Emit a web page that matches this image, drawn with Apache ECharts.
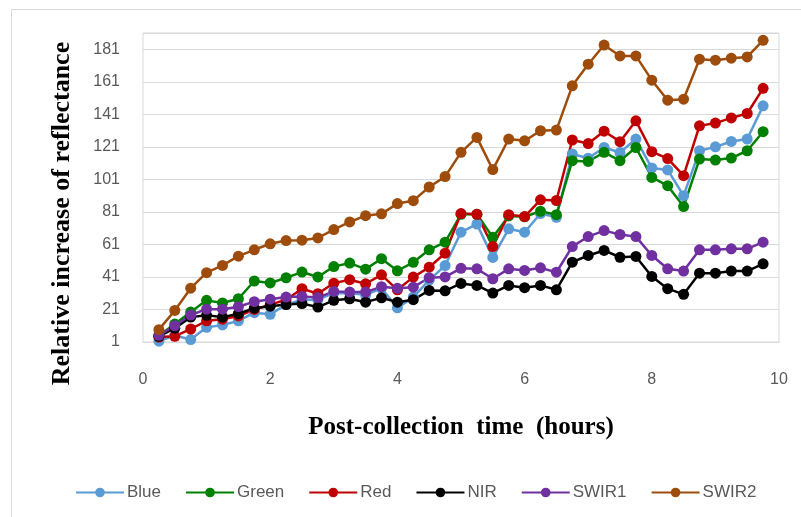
<!DOCTYPE html>
<html><head><meta charset="utf-8">
<script src="https://cdn.jsdelivr.net/npm/echarts@6/dist/echarts.min.js"></script>
<style>html,body{margin:0;padding:0;background:#fff}#c{width:801px;height:517px}</style>
</head><body><div id="c"></div>
<script>
var hours = [0.25,0.5,0.75,1,1.25,1.5,1.75,2,2.25,2.5,2.75,3,3.25,3.5,3.75,4,4.25,4.5,4.75,5,5.25,5.5,5.75,6,6.25,6.5,6.75,7,7.25,7.5,7.75,8,8.25,8.5,8.75,9,9.25,9.5,9.75];
var blue  = [1.5,5,2.5,10,11.5,14,19,18,24,27,27,31,31,30,34,22,28.6,39,48,68.5,73.5,53,70.6,68.5,80,77.7,116.6,114,120.6,117.5,125.8,108,106.8,91,118.6,121,124.3,125.8,146.2];
var green = [5,12,19.4,26.6,25,27.6,38.5,37.3,40.5,44,41,47.4,49.5,45.8,52.2,44.8,50,57.7,62.4,79.5,79.5,65.4,78.5,78,81.4,79.3,112.5,112,117.6,112.5,120.6,102.2,97.1,84.3,113.5,112.9,114.1,118.6,130.3];
var red   = [4,4.5,9,14,15,17,21,24,27,33.8,30.7,37.2,39.3,36.8,42.3,33.1,40.9,47,55.6,80,79.5,59.7,79.3,78.1,88.4,88,125.2,123,130.6,124.2,137,118,113.8,103.3,133.9,135.6,138.8,141.5,157];
var nir   = [4.5,9.5,16.3,17.4,16.3,18.4,21.8,23,24,24.6,22.5,26.6,27.6,25.5,28.2,25.5,27,32.7,32.5,37,35.8,31.1,35.8,34.4,35.8,33.1,50.1,54.2,57.3,53.1,53.6,41.3,33.8,30.3,43.3,43.3,44.6,44.6,49.1];
var swir1 = [5.1,11,17.6,21.2,21.2,22.7,25.8,27.3,28.6,29,28.3,32.1,31.7,31.7,35,34,34.7,40.5,41,46.3,46,39.9,46,45,46.6,43.9,59.7,65.8,69.5,67.1,65.8,54.2,46,44.6,57.7,57.7,58.3,58.3,62.4];
var swir2 = [8.6,20.4,34.1,43.6,48.1,53.8,57.7,61.4,63.4,63.6,65.0,70.1,74.8,78.7,79.8,86.1,87.9,96.3,102.7,117.6,126.8,107.0,125.8,124.7,130.9,131.3,158.5,171.8,183.6,176.9,176.9,162.0,149.7,150.3,174.9,174.3,175.5,176.3,186.5];
var seriesNames = ['Blue','Green','Red','NIR','SWIR1','SWIR2'];
var seriesData = [blue, green, red, nir, swir1, swir2];
var colors = ['#5b9bd5','#008000','#c00000','#000000','#7030a0','#9e4c0c'];

function pairs(vals){ return hours.map(function(h,i){ return [h, vals[i]]; }); }

var chart = echarts.init(document.getElementById('c'), null, {renderer:'canvas'});
chart.setOption({
  animation:false,
  color: colors,
  graphic:[{type:'rect', left:9, top:7, shape:{width:830, height:540}, style:{fill:'none', stroke:'#d9d9d9', lineWidth:1}, silent:true}],
  grid:{left:143, right:22, top:33, bottom:175, show:true, borderColor:'#d9d9d9', borderWidth:1, containLabel:false},
  legend:{left:70, top:479, itemWidth:48, itemHeight:12, itemGap:24,
    textStyle:{fontFamily:'Liberation Sans', fontSize:17, color:'#595959', padding:[0,0,0,-2]},
    data: seriesNames},
  xAxis:{type:'value', min:0, max:10, interval:2,
    name:'Post-collection  time  (hours)', nameLocation:'middle', nameGap:73,
    nameTextStyle:{fontFamily:'Liberation Serif', fontWeight:'bold', fontSize:25, color:'#000'},
    axisLine:{show:true, lineStyle:{color:'#d9d9d9'}}, axisTick:{show:false},
    axisLabel:{fontFamily:'Liberation Sans', fontSize:16, color:'#595959', margin:30},
    splitLine:{show:false}},
  yAxis:{type:'value', min:1, max:191, interval:20,
    name:'Relative increase of reflectance', nameLocation:'middle', nameGap:68, nameRotate:90,
    nameTextStyle:{fontFamily:'Liberation Serif', fontWeight:'bold', fontSize:26, color:'#000', padding:[0,52,0,0]},
    axisLine:{show:false}, axisTick:{show:false},
    axisLabel:{fontFamily:'Liberation Sans', fontSize:16, color:'#595959', margin:23, showMaxLabel:false},
    splitLine:{show:true, lineStyle:{color:'#d9d9d9', width:1}}},
  series: seriesNames.map(function(n,k){
    return {name:n, type:'line', data:pairs(seriesData[k]), symbol:'circle', symbolSize:11,
      lineStyle:{width:2.5, color:colors[k]}, itemStyle:{color:colors[k]}};
  })
});
</script></body></html>
